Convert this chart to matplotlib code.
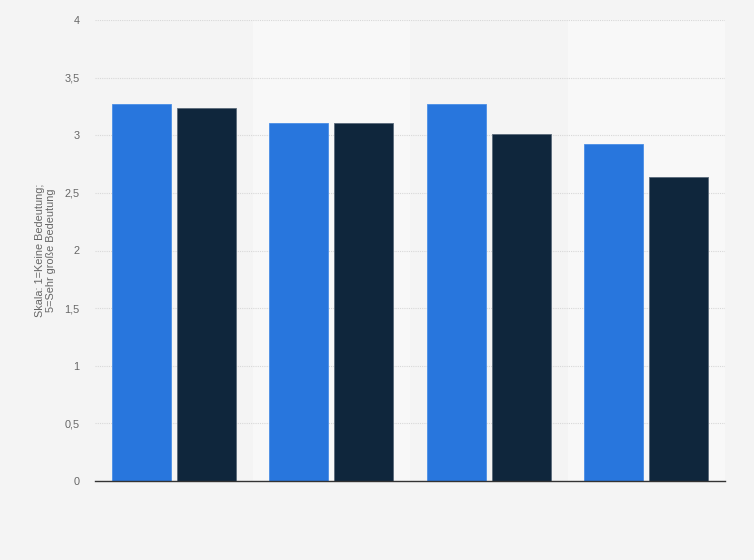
import matplotlib
matplotlib.use("Agg")
import matplotlib.pyplot as plt
import numpy as np

plt.rcParams["font.family"] = ["Liberation Sans", "DejaVu Sans"]

categories = ["", "", "", ""]
series_a = [3.27, 3.11, 3.27, 2.92]
series_b = [3.24, 3.11, 3.01, 2.64]
yticks = [0, 0.5, 1, 1.5, 2, 2.5, 3, 3.5, 4]
ytick_labels = ["0", "0,5", "1", "1,5", "2", "2,5", "3", "3,5", "4"]
ylabel = "Skala: 1=Keine Bedeutung;\n5=Sehr große Bedeutung"

bg = "#f4f4f4"
fig = plt.figure(figsize=(7.54, 5.6), dpi=100, facecolor=bg)
ax = fig.add_axes([95/754, 1-481/560, 630/754, 461/560])
ax.set_facecolor(bg)

x = np.arange(len(categories))
for i in x:
    if i % 2 == 1:
        ax.axvspan(i-0.5, i+0.5, color="#f8f8f8", zorder=0, lw=0)

w = 0.375
ax.bar(x-0.206, series_a, width=w, color="#2876dd", edgecolor="#4a8ee6", linewidth=0.6, zorder=3)
ax.bar(x+0.206, series_b, width=w, color="#0f263c", edgecolor="#5a6a7a", linewidth=0.6, zorder=3)

ax.set_xlim(-0.5, 3.5)
ax.set_ylim(0, 4)
ax.set_yticks(yticks)
ax.set_yticklabels(ytick_labels, color="#666666", fontsize=7.8)
ax.set_xticks([])
ax.grid(axis="y", color="#d8d8d8", linestyle=(0, (1, 1)), linewidth=0.8, zorder=1)
ax.tick_params(axis="y", length=0, pad=11)
for s in ["top", "right", "left"]:
    ax.spines[s].set_visible(False)
ax.spines["bottom"].set_color("#333333")
ax.spines["bottom"].set_linewidth(1.0)
ax.spines["bottom"].set_zorder(4)
ax.set_ylabel(ylabel, color="#666666", fontsize=7.8, linespacing=1.15, va="center", ha="center")
ax.yaxis.set_label_coords(-0.078, 0.5)

fig.savefig("out.png", dpi=100, facecolor=bg)
